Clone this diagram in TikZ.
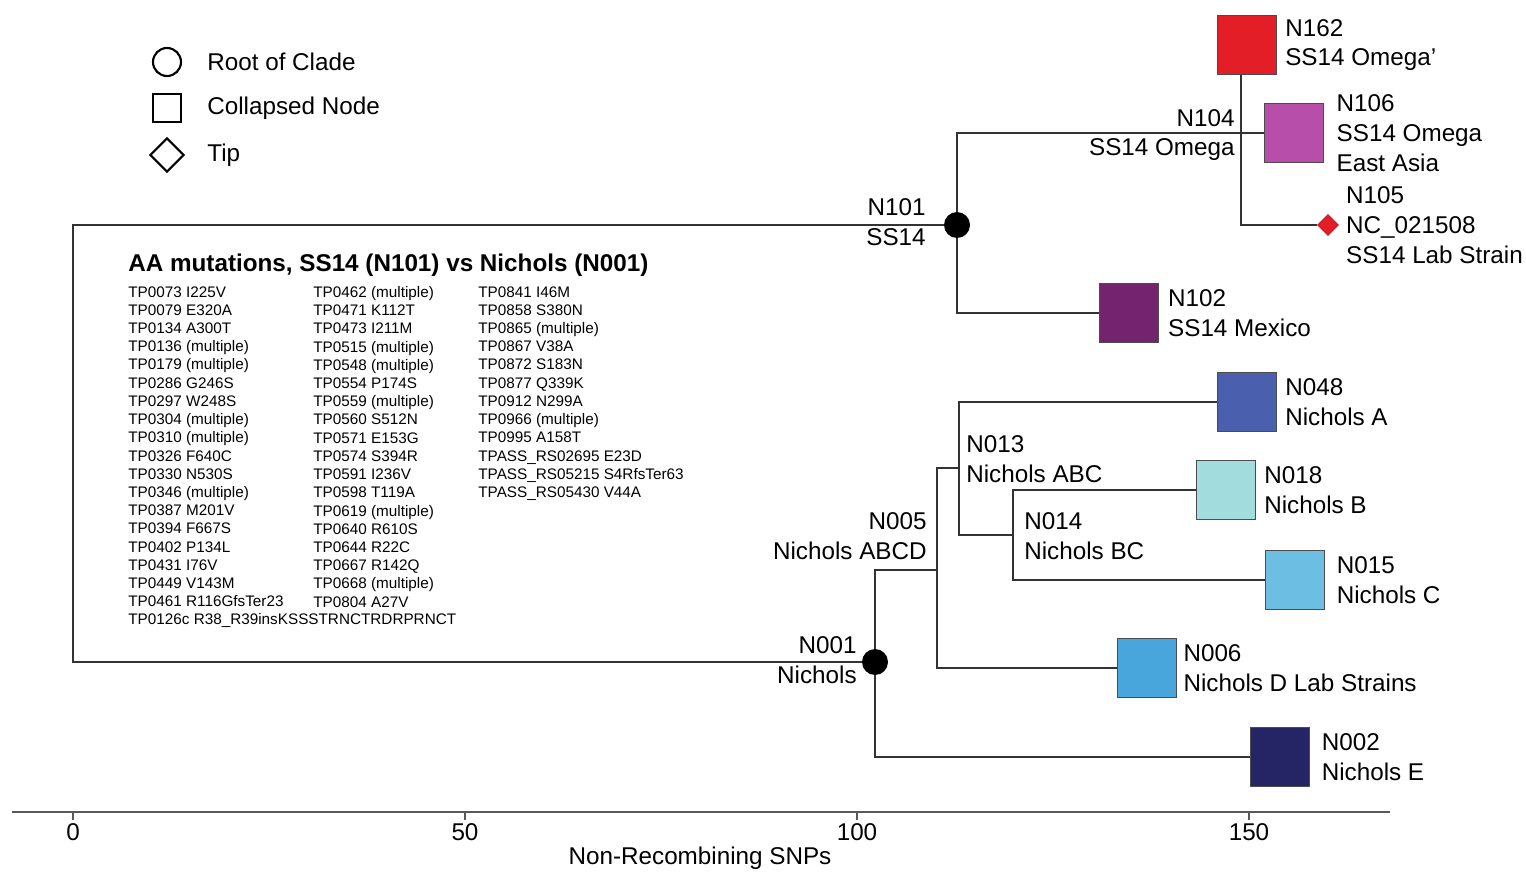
\documentclass[tikz,border=0pt]{standalone}
\usepackage{fontspec}
\setmainfont{Liberation Sans}
\usetikzlibrary{shapes.geometric}

\definecolor{omegared}{RGB}{228,30,38}
\definecolor{omegaasia}{RGB}{182,78,170}
\definecolor{mexico}{RGB}{116,36,110}
\definecolor{nicholsA}{RGB}{74,95,174}
\definecolor{nicholsB}{RGB}{163,220,220}
\definecolor{nicholsC}{RGB}{109,190,227}
\definecolor{nicholsD}{RGB}{72,166,220}
\definecolor{nicholsE}{RGB}{37,37,102}

\begin{document}
\begin{tikzpicture}[x=0.02cm, y=-0.02cm,
  every node/.style={font=\fontsize{13.8}{17}\selectfont},
  branch/.style={line width=1.1pt, draw=black!80},
  clade/.style={circle, fill=black, minimum size=0.52cm, inner sep=0},
  collapsed/.style={rectangle, draw=black!70, line width=0.6pt, minimum size=1.18cm, inner sep=0},
  tipnode/.style={diamond, fill=omegared, draw=omegared!80!black, line width=0.4pt,
    minimum width=0.42cm, minimum height=0.42cm, inner sep=0},
  lbl/.style={align=left, inner sep=0},
  mutlist/.style={align=left, inner sep=0, anchor=north west, font=\fontsize{8.7}{10.37}\selectfont}]
  \useasboundingbox (0,0) rectangle (1526,872);

  % legend
  \node[circle, draw, line width=1.2pt, minimum size=0.56cm, inner sep=0] (legroot) at (167,62) {};
  \node[rectangle, draw, line width=1.2pt, minimum size=0.56cm, inner sep=0] (legcoll) at (167,108) {};
  \node[diamond, draw, line width=1.2pt, minimum width=0.68cm, minimum height=0.68cm, inner sep=0] (legtip) at (167,155) {};
  \node[lbl, anchor=west] (legrootlbl) at (207,62) {Root of Clade};
  \node[lbl, anchor=west] (legcolllbl) at (207,108) {Collapsed Node};
  \node[lbl, anchor=west] (legtiplbl) at (207,155) {Tip};

  % tree nodes
  \coordinate (root) at (73,443);
  \node[clade] (n101) at (957,225) {};
  \node[clade] (n001) at (875,662) {};
  \coordinate (n104) at (1241,133);
  \coordinate (n005) at (937,570);
  \coordinate (n013) at (959,468);
  \coordinate (n014) at (1013,535);
  \node[collapsed, fill=omegared] (n162) at (1247,45) {};
  \node[collapsed, fill=omegaasia] (n106) at (1294,133) {};
  \node[tipnode] (n105) at (1328,225) {};
  \node[collapsed, fill=mexico] (n102) at (1129,313) {};
  \node[collapsed, fill=nicholsA] (n048) at (1247,402) {};
  \node[collapsed, fill=nicholsB] (n018) at (1226,490) {};
  \node[collapsed, fill=nicholsC] (n015) at (1295,580) {};
  \node[collapsed, fill=nicholsD] (n006) at (1147,668) {};
  \node[collapsed, fill=nicholsE] (n002) at (1280,757) {};

  % branches
  \begin{scope}[on background layer/.try]
  \draw[branch] (root) |- (n101);
  \draw[branch] (root) |- (n001);
  \draw[branch] (n101) |- (n104);
  \draw[branch] (n101) |- (n102);
  \draw[branch] (n104) -- (n104 |- n162.south);
  \draw[branch] (n104) -- (n106);
  \draw[branch] (n104) |- (n105);
  \draw[branch] (n001) |- (n005);
  \draw[branch] (n001) |- (n002);
  \draw[branch] (n005) |- (n013);
  \draw[branch] (n005) |- (n006);
  \draw[branch] (n013) |- (n048);
  \draw[branch] (n013) |- (n014);
  \draw[branch] (n014) |- (n018);
  \draw[branch] (n014) |- (n015);
  \end{scope}

  % internal node labels
  \node[lbl, align=right, anchor=east] (n101lbl) at (926,222) {N101\\SS14};
  \node[lbl, align=right, anchor=east] (n104lbl) at (1235,135) {N104\\SS14 Omega};
  \node[lbl, align=right, anchor=east] (n001lbl) at (857,660) {N001\\Nichols};
  \node[lbl, align=right, anchor=east] (n005lbl) at (927,536) {N005\\Nichols ABCD};
  \node[lbl, anchor=west] (n013lbl) at (966,459) {N013\\Nichols ABC};
  \node[lbl, anchor=west] (n014lbl) at (1024,536) {N014\\Nichols BC};

  % collapsed node and tip labels
  \node[lbl, anchor=west] (n162lbl) at ([xshift=4.5pt]n162.east) {N162\\SS14 Omega'};
  \node[lbl, anchor=west] (n106lbl) at ([xshift=7pt]n106.east) {N106\\SS14 Omega\\East Asia};
  \node[lbl, anchor=west] (n105lbl) at ([xshift=4pt]n105.east) {N105\\NC\_021508\\SS14 Lab Strain};
  \node[lbl, anchor=west] (n102lbl) at ([xshift=5pt]n102.east) {N102\\SS14 Mexico};
  \node[lbl, anchor=west] (n048lbl) at ([xshift=4.5pt]n048.east) {N048\\Nichols A};
  \node[lbl, anchor=west] (n018lbl) at ([xshift=4.5pt]n018.east) {N018\\Nichols B};
  \node[lbl, anchor=west] (n015lbl) at ([xshift=6.5pt]n015.east) {N015\\Nichols C};
  \node[lbl, anchor=west] (n006lbl) at ([xshift=3.5pt]n006.east) {N006\\Nichols D Lab Strains};
  \node[lbl, anchor=west] (n002lbl) at ([xshift=6.5pt]n002.east) {N002\\Nichols E};

  % mutation list
  \node[lbl, anchor=west, font=\fontsize{13.8}{17}\selectfont\bfseries] (aatitle) at (128,265)
    {AA mutations, SS14 (N101) vs Nichols (N001)};
  \node[mutlist] (mutcol1) at (128,286) {TP0073 I225V\\TP0079 E320A\\TP0134 A300T\\TP0136 (multiple)\\
    TP0179 (multiple)\\TP0286 G246S\\TP0297 W248S\\TP0304 (multiple)\\TP0310 (multiple)\\
    TP0326 F640C\\TP0330 N530S\\TP0346 (multiple)\\TP0387 M201V\\TP0394 F667S\\TP0402 P134L\\
    TP0431 I76V\\TP0449 V143M\\TP0461 R116GfsTer23\\TP0126c R38\_R39insKSSSTRNCTRDRPRNCT};
  \node[mutlist] (mutcol2) at (313,286) {TP0462 (multiple)\\TP0471 K112T\\TP0473 I211M\\
    TP0515 (multiple)\\TP0548 (multiple)\\TP0554 P174S\\TP0559 (multiple)\\TP0560 S512N\\
    TP0571 E153G\\TP0574 S394R\\TP0591 I236V\\TP0598 T119A\\TP0619 (multiple)\\TP0640 R610S\\
    TP0644 R22C\\TP0667 R142Q\\TP0668 (multiple)\\TP0804 A27V};
  \node[mutlist] (mutcol3) at (478,286) {TP0841 I46M\\TP0858 S380N\\TP0865 (multiple)\\
    TP0867 V38A\\TP0872 S183N\\TP0877 Q339K\\TP0912 N299A\\TP0966 (multiple)\\TP0995 A158T\\
    TPASS\_RS02695 E23D\\TPASS\_RS05215 S4RfsTer63\\TPASS\_RS05430 V44A};

  % axis
  \coordinate (axl) at (12,812);
  \coordinate (axr) at (1390,812);
  \draw[line width=1.7pt, black!65] (axl) -- (axr);
  \foreach \v in {0,50,100,150} {
    \draw[line width=0.6pt, black!65] (73+7.84*\v,812) -- ++(0,8);
    \node (tick\v) at (73+7.84*\v,832) {\v};
  }
  \node (axlbl) at (700,858) {Non-Recombining SNPs};
\end{tikzpicture}
\end{document}
